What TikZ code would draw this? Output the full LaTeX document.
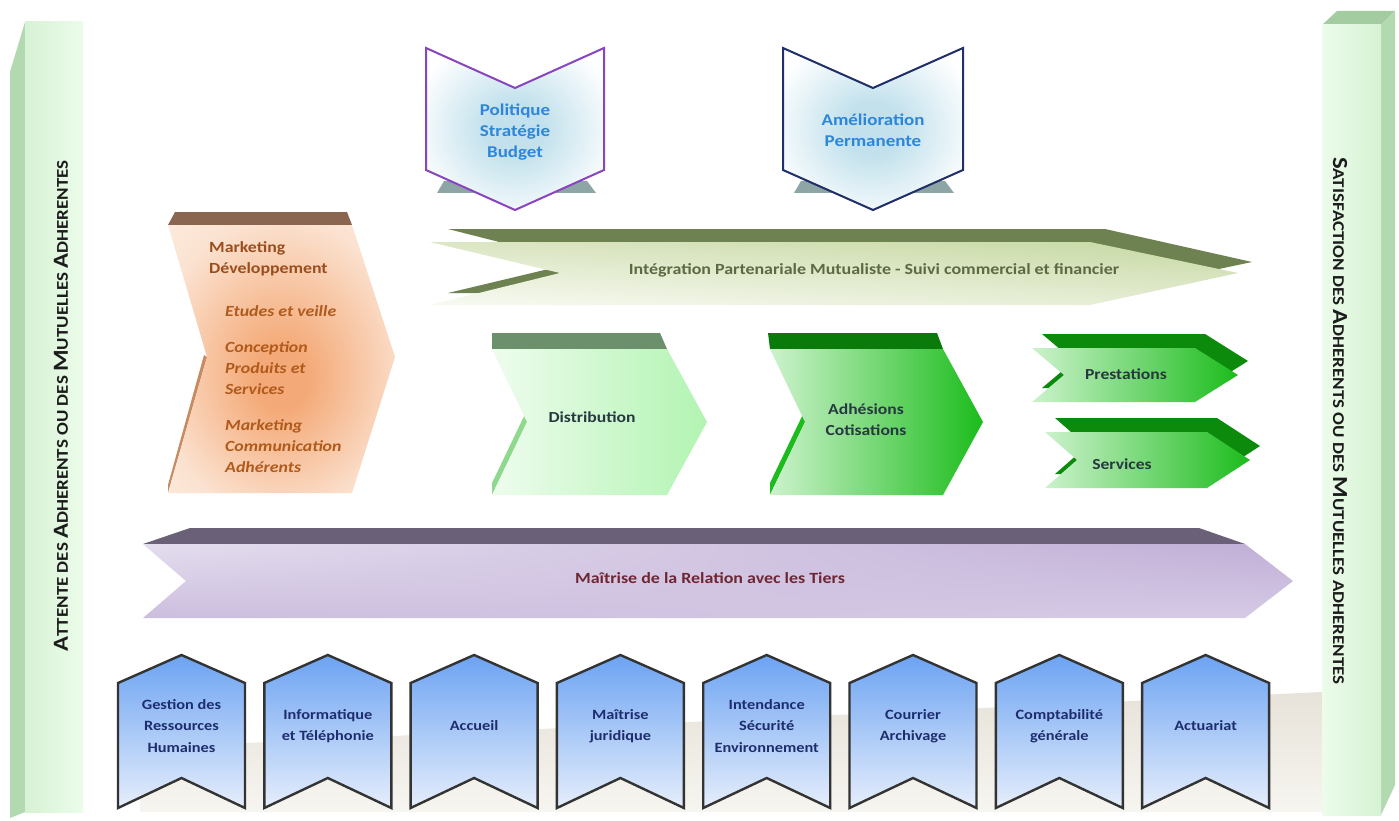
\documentclass[tikz,border=0pt]{standalone}
\usepackage{fontspec}
\setmainfont{Carlito}[FakeStretch=1.15]
\usetikzlibrary{calc,shadings}
\definecolor{barFrontA}{HTML}{D6F2D4}
\definecolor{barFrontB}{HTML}{ECFCEA}
\definecolor{barSide}{HTML}{B3D9B1}
\definecolor{barTop}{HTML}{A3CDA1}
\definecolor{barText}{HTML}{1C1C1C}
\definecolor{glowA}{HTML}{C2E1EC}
\definecolor{polBorder}{HTML}{8A44C0}
\definecolor{amBorder}{HTML}{22306A}
\definecolor{topText}{HTML}{2E86D8}
\definecolor{topShadow}{HTML}{8EA5A6}
\definecolor{orA}{HTML}{F4AA78}
\definecolor{orB}{HTML}{FBE2D0}
\definecolor{orC}{HTML}{FEF7F1}
\definecolor{orBand}{HTML}{8A6650}
\definecolor{orTitle}{HTML}{9A4E1E}
\definecolor{orItem}{HTML}{B05A1C}
\definecolor{intBand}{HTML}{6E8150}
\definecolor{intUL}{HTML}{DCE6C4}
\definecolor{intUR}{HTML}{C6D8A2}
\definecolor{intLL}{HTML}{F8FAF2}
\definecolor{intLR}{HTML}{E4ECD2}
\definecolor{intText}{HTML}{5C6A44}
\definecolor{distBand}{HTML}{6C906C}
\definecolor{distSliver}{HTML}{8FD98F}
\definecolor{distA}{HTML}{EEFCEE}
\definecolor{distB}{HTML}{B2F4B2}
\definecolor{adhBand}{HTML}{0A7A0A}
\definecolor{adhA}{HTML}{CDF2CD}
\definecolor{adhM}{HTML}{8EE08E}
\definecolor{adhB}{HTML}{1CBC1C}
\definecolor{greenText}{HTML}{263840}
\definecolor{prBand}{HTML}{0C8A0C}
\definecolor{maiBand}{HTML}{6A6078}
\definecolor{maiUL}{HTML}{E4DDEE}
\definecolor{maiUR}{HTML}{C0AED6}
\definecolor{maiLL}{HTML}{CCBEDE}
\definecolor{maiLR}{HTML}{D6CBE6}
\definecolor{maiText}{HTML}{6E2633}
\definecolor{supA}{HTML}{6CA3F2}
\definecolor{supB}{HTML}{E6EEFB}
\definecolor{supBorder}{HTML}{333333}
\definecolor{supText}{HTML}{1E2D6E}
\definecolor{beige}{HTML}{E7E3DA}
\definecolor{beigeB}{HTML}{F7F5F0}
\pgfdeclareradialshading{chevglow}{\pgfpoint{0bp}{0bp}}{color(0bp)=(glowA); color(8bp)=(glowA); color(30bp)=(white); color(50bp)=(white)}
\pgfdeclareradialshading{orangeglow}{\pgfpoint{0bp}{-4bp}}{color(0bp)=(orA); color(6bp)=(orA); color(28bp)=(orB); color(50bp)=(orC)}
\newcommand\BC[1]{{\fontsize{21.5}{21.5}\selectfont #1}}
\begin{document}
\begin{tikzpicture}[x=1pt,y=-1pt,
  every node/.style={inner sep=0pt, align=center},
  toptxt/.style={font=\fontsize{16.5}{21}\selectfont\bfseries, text=topText},
  midtxt/.style={font=\fontsize{15.3}{21}\selectfont\bfseries, text=greenText},
  suptxt/.style={font=\fontsize{14.2}{21.5}\selectfont\bfseries, text=supText},
  bartxt/.style={font=\fontsize{16.5}{16.5}\selectfont\bfseries, text=barText},
  supchev/.style={top color=supA, bottom color=supB, draw=supBorder, line width=2.4pt, line join=miter},
  topchev/.style={shading=chevglow, line width=2pt, line join=miter}]
\useasboundingbox (0,0) rectangle (1399,821);
\fill[white] (0,0) rectangle (1399,821);

% shadow band behind support chevrons
\shade[top color=beige, bottom color=beigeB] (140,748) -- (1322,692) -- (1322,812) -- (140,812) -- cycle;

% left bar
\fill[barSide] (25,22) -- (10,72) -- (10,818) -- (25,812) -- cycle;
\shade[left color=barFrontA, right color=barFrontB] (25,22) rectangle (83,812);
\node[bartxt, rotate=90] (attente) at (61,406) {\BC{A}TTENTE DES \BC{A}DHERENTS OU DES \BC{M}UTUELLES \BC{A}DHERENTES};

% right bar
\fill[barTop] (1322,25) -- (1337,11) -- (1395,11) -- (1381,25) -- cycle;
\fill[barSide] (1381,25) -- (1395,11) -- (1395,785) -- (1381,815) -- cycle;
\shade[left color=barFrontB, right color=barFrontA] (1322,25) rectangle (1381,815);
\node[bartxt, rotate=-90] (satisf) at (1340,421) {\BC{S}ATISFACTION DES \BC{A}DHERENTS OU DES \BC{M}UTUELLES ADHERENTES};

% top chevrons
\fill[topShadow] (437,193) -- (444,181) -- (587,181) -- (596,193) -- cycle;
\shadedraw[topchev, draw=polBorder] (426,48) -- (515,88) -- (604,48) -- (604,170) -- (515,210) -- (426,170) -- cycle;
\node[toptxt] (politique) at (515,132) {Politique\\Stratégie\\Budget};
\fill[topShadow] (794,193) -- (801,181) -- (945,181) -- (954,193) -- cycle;
\shadedraw[topchev, draw=amBorder] (783,48) -- (873,88) -- (963,48) -- (963,170) -- (873,210) -- (783,170) -- cycle;
\node[toptxt] (amelio) at (873,130) {Amélioration\\Permanente};

% marketing
\fill[orBand] (168,225) -- (175,212) -- (347,212) -- (352,225) -- cycle;
\fill[orItem!70] (207,357) -- (168,493) -- (168,485) -- (204,355) -- cycle;
\shade[shading=orangeglow] (168,225) -- (352,225) -- (395,357) -- (352,493) -- (168,493) -- (207,357) -- cycle;
\node[font=\fontsize{15.5}{21}\selectfont\bfseries, text=orTitle, align=left, anchor=west] (mkt) at (209,259) {Marketing\\Développement};
\begin{scope}[every node/.style={inner sep=0pt, align=left, anchor=west, font=\fontsize{15.5}{21}\selectfont\bfseries\itshape, text=orItem}]
\node (etudes) at (225,311) {Etudes et veille};
\node (concep) at (225,368) {Conception\\Produits et\\Services};
\node (mktcom) at (225,446) {Marketing\\Communication\\Adhérents};
\end{scope}

% integration arrow
\fill[intBand] (448,229) -- (1105,229) -- (1252,262) -- (1105,293) -- (448,293) -- (578,262) -- cycle;
\shade[upper left=intUL, upper right=intUR, lower left=intLL, lower right=intLR] (430,242) -- (1090,242) -- (1238,273) -- (1090,305) -- (430,305) -- (560,273) -- cycle;
\node[font=\fontsize{15.6}{18}\selectfont\bfseries, text=intText] (integ) at (874,270) {Intégration Partenariale Mutualiste - Suivi commercial et financier};

% distribution
\fill[distBand] (492,349) -- (492,333) -- (660,333) -- (667,349) -- cycle;
\fill[distSliver] (527,422) -- (492,495) -- (492,483) -- (527,410) -- cycle;
\shade[left color=distA, right color=distB] (492,349) -- (667,349) -- (707,422) -- (667,495) -- (492,495) -- (527,422) -- cycle;
\node[midtxt] (distrib) at (592,417) {Distribution};

% adhesions
\fill[adhBand] (770,349) -- (768,333) -- (937,333) -- (943,349) -- cycle;
\fill[adhB] (805,422) -- (770,495) -- (770,483) -- (805,410) -- cycle;
\shade[left color=adhA, middle color=adhM, right color=adhB] (770,349) -- (943,349) -- (983,422) -- (943,495) -- (770,495) -- (805,422) -- cycle;
\node[midtxt] (adhes) at (866,420) {Adhésions\\Cotisations};

% prestations
\fill[prBand] (1042,334) -- (1205,334) -- (1248,361) -- (1205,388) -- (1042,388) -- (1074,361) -- cycle;
\shade[left color=adhA, right color=adhB] (1032,348) -- (1195,348) -- (1238,375) -- (1195,402) -- (1032,402) -- (1064,375) -- cycle;
\node[midtxt] (prest) at (1126,374) {Prestations};

% services
\fill[prBand] (1055,418) -- (1217,418) -- (1260,446) -- (1217,474) -- (1055,474) -- (1087,446) -- cycle;
\shade[left color=adhA, right color=adhB] (1045,432) -- (1207,432) -- (1250,460) -- (1207,488) -- (1045,488) -- (1077,460) -- cycle;
\node[midtxt] (serv) at (1122,464) {Services};

% maitrise relation tiers
\fill[maiBand] (143,544) -- (190,528) -- (1199,528) -- (1245,544) -- cycle;
\shade[upper left=maiUL, upper right=maiUR, lower left=maiLL, lower right=maiLR] (143,544) -- (1245,544) -- (1293,581) -- (1245,618) -- (143,618) -- (186,581) -- cycle;
\node[font=\fontsize{15.6}{18}\selectfont\bfseries, text=maiText] (maitrise) at (710,578) {Maîtrise de la Relation avec les Tiers};

% support chevrons
\foreach \i/\t in {0/{Gestion des\\Ressources\\Humaines},
                   1/{Informatique\\et Téléphonie},
                   2/{Accueil},
                   3/{Maîtrise\\juridique},
                   4/{Intendance\\Sécurité\\Environnement},
                   5/{Courrier\\Archivage},
                   6/{Comptabilité\\générale},
                   7/{Actuariat}} {
  \pgfmathsetmacro\xa{118+146.3*\i}
  \shadedraw[supchev] (\xa,683) -- ++(63.5,-28) -- ++(63.5,28) -- ++(0,125) -- ++(-63.5,-30) -- ++(-63.5,30) -- cycle;
  \node[suptxt] (sup\i) at (\xa+63.5,726) {\t};
}
\end{tikzpicture}
\end{document}
